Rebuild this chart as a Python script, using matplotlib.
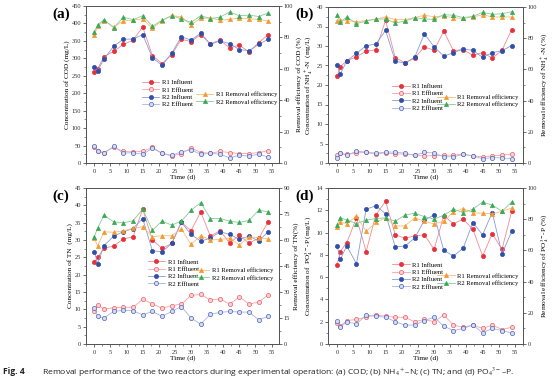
import matplotlib
matplotlib.use('Agg')
import matplotlib.pyplot as plt
from matplotlib.ticker import AutoMinorLocator
import numpy as np

# sampling days
days = [0, 1, 3, 6, 9, 12, 15, 18, 21, 24, 27, 30, 33, 36, 39, 42, 45, 48, 51, 54]

# (a) COD
cod_r1_in = [260, 270, 305, 320, 340, 352, 390, 308, 285, 310, 355, 348, 368, 342, 352, 330, 338, 318, 345, 368]
cod_r1_out = [47, 35, 30, 45, 33, 32, 33, 45, 28, 20, 27, 43, 30, 28, 33, 30, 27, 27, 30, 35]
cod_r2_in = [275, 265, 298, 335, 355, 355, 368, 302, 280, 315, 362, 352, 372, 340, 350, 342, 325, 322, 340, 355]
cod_r2_out = [48, 33, 28, 48, 28, 30, 25, 42, 28, 22, 32, 38, 25, 28, 25, 15, 22, 20, 25, 17]
cod_r1_eff = [81.5, 87.0, 90.7, 86.7, 90.4, 91.0, 91.8, 85.8, 90.7, 94.0, 93.0, 88.0, 92.2, 92.4, 91.0, 91.5, 92.2, 91.8, 91.5, 90.4]
cod_r2_eff = [83.6, 88.0, 91.3, 86.2, 92.9, 91.3, 93.8, 87.1, 90.9, 93.8, 91.8, 89.6, 93.8, 92.0, 92.9, 96.2, 93.8, 94.2, 93.3, 95.6]

# (b) NH4+-N
nh_r1_in = [22.3, 24.7, 26.2, 27.2, 28.7, 29.0, 36.6, 27.0, 25.7, 26.9, 29.8, 28.9, 33.8, 28.8, 29.1, 27.6, 28.3, 26.9, 28.9, 34.2]
nh_r1_out = [2.0, 2.5, 2.2, 2.6, 2.7, 2.3, 2.6, 2.3, 2.3, 2.0, 1.8, 1.9, 2.0, 2.0, 2.3, 1.8, 1.6, 1.8, 2.0, 2.3]
nh_r2_in = [25.1, 22.8, 26.2, 28.1, 30.1, 30.5, 34.0, 26.1, 25.6, 27.1, 33.1, 29.8, 27.4, 28.3, 29.2, 28.9, 27.1, 28.3, 28.8, 30.1]
nh_r2_out = [1.4, 2.5, 2.0, 3.0, 2.8, 2.5, 2.8, 2.8, 2.5, 2.0, 2.7, 2.6, 1.6, 1.6, 2.2, 1.8, 1.1, 1.4, 1.3, 1.1]
nh_r1_eff = [91.3, 91.7, 91.3, 90.6, 91.3, 92.3, 93.6, 91.9, 91.9, 93.2, 94.7, 93.8, 94.3, 93.0, 92.8, 93.6, 95.0, 93.6, 93.6, 93.6]
nh_r2_eff = [95.0, 90.2, 93.6, 89.4, 90.9, 92.3, 92.3, 89.8, 90.9, 93.2, 92.3, 92.1, 95.1, 94.7, 93.2, 94.0, 96.6, 95.3, 95.7, 97.0]

# (c) TN
tn_r1_in = [23.6, 25.0, 27.6, 28.3, 30.3, 30.9, 38.9, 30.0, 27.6, 29.0, 35.1, 32.7, 38.1, 31.1, 32.7, 29.1, 31.4, 29.1, 30.5, 35.3]
tn_r1_out = [9.4, 11.3, 10.0, 10.5, 10.6, 10.6, 12.9, 11.6, 10.3, 11.1, 11.5, 14.0, 14.3, 12.7, 13.0, 11.5, 13.6, 11.5, 12.1, 14.2]
tn_r2_in = [26.6, 23.2, 28.4, 31.1, 32.4, 33.3, 36.2, 26.9, 26.6, 29.0, 35.1, 31.6, 29.7, 30.5, 32.4, 31.6, 30.2, 31.1, 29.7, 32.4]
tn_r2_out = [10.3, 8.0, 7.5, 9.4, 9.7, 9.6, 8.4, 9.4, 8.0, 9.4, 10.8, 7.5, 5.7, 8.6, 9.1, 9.4, 9.2, 9.2, 7.0, 8.0]
tn_r1_eff = [61.0, 56.5, 64.8, 64.4, 65.3, 66.7, 67.6, 61.9, 62.5, 62.5, 66.3, 57.5, 62.5, 60.0, 60.3, 61.0, 57.1, 61.9, 61.3, 60.5]
tn_r2_eff = [61.9, 67.0, 74.3, 70.5, 69.9, 71.1, 77.8, 65.7, 70.9, 68.6, 70.9, 77.2, 81.6, 72.4, 72.4, 70.9, 70.1, 71.3, 77.2, 76.2]

# (d) PO4 3- -P
tp_r1_in = [7.1, 8.3, 9.1, 11.3, 8.3, 11.6, 12.8, 9.8, 9.5, 9.7, 9.8, 8.5, 11.5, 10.8, 11.2, 10.3, 7.9, 9.9, 8.5, 11.9]
tp_r1_out = [1.9, 1.6, 2.1, 2.2, 2.4, 2.6, 2.5, 2.4, 2.4, 2.0, 2.2, 2.0, 2.6, 1.7, 1.5, 1.7, 1.4, 1.7, 1.3, 1.5]
tp_r2_in = [8.8, 7.6, 8.8, 7.2, 12.1, 12.4, 11.7, 8.7, 8.8, 9.5, 11.1, 11.6, 8.4, 7.9, 8.6, 10.9, 9.8, 11.8, 8.1, 10.1]
tp_r2_out = [2.1, 1.5, 2.0, 1.8, 2.6, 2.5, 2.4, 2.0, 1.7, 1.7, 2.1, 2.4, 1.6, 1.2, 1.4, 1.7, 1.0, 1.4, 1.2, 1.0]
tp_r1_eff = [75.0, 78.0, 77.2, 81.9, 72.3, 77.9, 80.9, 75.7, 75.7, 80.9, 78.7, 77.0, 78.7, 84.7, 86.8, 84.2, 83.8, 83.4, 85.1, 87.2]
tp_r2_eff = [76.6, 80.9, 79.5, 77.2, 79.4, 80.4, 80.9, 78.7, 82.6, 83.8, 81.7, 80.0, 82.6, 86.4, 84.2, 86.4, 91.0, 89.0, 85.1, 91.0]

plt.rcParams['font.family'] = ['Liberation Serif', 'DejaVu Serif']
plt.rcParams['mathtext.fontset'] = 'stix'

fig = plt.figure(figsize=(5.54, 3.83), dpi=100)
W, H = 554.0, 383.0

def box(l, t, r, b):
    return [l / W, 1 - b / H, (r - l) / W, (b - t) / H]

tick_fs = 4.6
lab_fs = 5.2
leg_fs = 4.8
spine_c = '#555555'

def panel(rect, xlim, lylim, lyticks, rylim, ryticks, ylab, rylab,
          r1_in, r1_out, r2_in, r2_out, r1_eff, r2_eff, leg1, leg2):
    ax = fig.add_axes(box(*rect))
    ax2 = ax.twinx()
    ms = 3.0
    lw = 0.6
    l1, = ax.plot(days, r1_in, '-o', color='#f28a92', lw=lw, ms=ms,
                  mfc='#e8303a', mec='#e8303a', mew=0.5, label='R1 Influent')
    l2, = ax.plot(days, r1_out, '-o', color='#f5a3a8', lw=lw, ms=ms,
                  mfc='#fbd3d5', mec='#ee5a63', mew=0.5, label='R1 Effluent')
    l3, = ax.plot(days, r2_in, '-o', color='#8a9ad6', lw=lw, ms=ms,
                  mfc='#2f4fa8', mec='#2f4fa8', mew=0.5, label='R2 Influent')
    l4, = ax.plot(days, r2_out, '-o', color='#a8b4e4', lw=lw, ms=ms,
                  mfc='#d6ddf4', mec='#4a60b8', mew=0.5, label='R2 Effluent')
    l5, = ax2.plot(days, r1_eff, '-^', color='#f6be80', lw=lw, ms=ms,
                   mfc='#f29a2e', mec='#f29a2e', mew=0.5, label='R1 Removal efficiency')
    l6, = ax2.plot(days, r2_eff, '-^', color='#8acb98', lw=lw, ms=ms,
                   mfc='#3aa856', mec='#3aa856', mew=0.5, label='R2 Removal efficiency')
    ax.set_xlim(*xlim)
    ax.set_ylim(*lylim)
    ax.set_yticks(lyticks)
    ax.set_xticks(np.arange(0, 56, 5))
    ax2.set_ylim(*rylim)
    ax2.set_yticks(ryticks)
    ax.xaxis.set_minor_locator(AutoMinorLocator(2))
    ax.yaxis.set_minor_locator(AutoMinorLocator(2))
    ax2.yaxis.set_minor_locator(AutoMinorLocator(2))
    ax.set_xlabel('Time (d)', fontsize=lab_fs, labelpad=0.5)
    ax.set_ylabel(ylab, fontsize=lab_fs, labelpad=1.5)
    ax2.set_ylabel(rylab, fontsize=lab_fs, labelpad=2)
    for a in (ax, ax2):
        a.tick_params(labelsize=tick_fs, length=2, width=0.5, pad=1.5, colors='#333333')
        a.tick_params(which='minor', length=1.2, width=0.4, colors='#333333')
        for s in a.spines.values():
            s.set_color(spine_c)
            s.set_linewidth(0.7)
    ax.tick_params(axis='x', pad=2)
    lg1 = ax2.legend(handles=[l1, l2, l3, l4], loc='upper left', bbox_to_anchor=leg1,
                     frameon=False, fontsize=leg_fs, handlelength=2.6, handletextpad=0.4,
                     labelspacing=0.25, borderaxespad=0, borderpad=0)
    ax2.add_artist(lg1)
    ax2.legend(handles=[l5, l6], loc='upper left', bbox_to_anchor=leg2,
               frameon=False, fontsize=leg_fs, handlelength=2.6, handletextpad=0.4,
               labelspacing=0.25, borderaxespad=0, borderpad=0)
    return ax

panel((86, 6, 279, 163), (-2.6, 57.3), (0, 450), np.arange(0, 451, 50), (0, 100), np.arange(0, 101, 20),
      'Concentration of COD (mg/L)', 'Removal efficiency of COD (%)',
      cod_r1_in, cod_r1_out, cod_r2_in, cod_r2_out, cod_r1_eff, cod_r2_eff,
      (0.29, 0.53), (0.57, 0.455))
panel((328, 7, 523, 163), (-2.8, 57.5), (0, 40), np.arange(0, 41, 5), (0, 100), np.arange(0, 101, 20),
      r'Concentration of NH$_4^+$-N  (mg/L)', r'Removal efficiency of NH$_4^+$-N (%)',
      nh_r1_in, nh_r1_out, nh_r2_in, nh_r2_out, nh_r1_eff, nh_r2_eff,
      (0.33, 0.51), (0.56, 0.44))
panel((86, 188, 279, 344), (-2.6, 57.3), (0, 45), np.arange(0, 46, 5), (0, 90), np.arange(0, 91, 15),
      'Concentration of TN  (mg/L)', 'Removal efficiency of TN(%)',
      tn_r1_in, tn_r1_out, tn_r2_in, tn_r2_out, tn_r1_eff, tn_r2_eff,
      (0.32, 0.545), (0.55, 0.49))
panel((328, 188, 523, 344), (-2.8, 57.5), (0, 14), np.arange(0, 15, 2), (0, 100), np.arange(0, 101, 20),
      r'Concentration of  PO$_4^{3-}$-P (mg/L)', r'Removal efficiency of PO$_4^{3-}$-P (%)',
      tp_r1_in, tp_r1_out, tp_r2_in, tp_r2_out, tp_r1_eff, tp_r2_eff,
      (0.33, 0.525), (0.56, 0.455))

for lab, x, y in [('(a)', 52, 14), ('(b)', 295, 14), ('(c)', 52, 196), ('(d)', 295, 196)]:
    fig.text(x / W, 1 - y / H, lab, fontsize=11, fontweight='bold', va='center', ha='left')

fig.text(3 / W, 1 - 372 / H, 'Fig. 4', fontsize=6.1, fontweight='bold', family='Open Sans',
         va='center', ha='left', color='#222222')
fig.text(42 / W, 1 - 372 / H,
         r'Removal performance of the two reactors during experimental operation: (a) COD; (b) NH$_4$$^+$–N; (c) TN; and (d) PO$_4$$^{3-}$–P.',
         fontsize=6.1, family='Open Sans', va='center', ha='left', color='#222222')

fig.savefig('out.png', dpi=100)
